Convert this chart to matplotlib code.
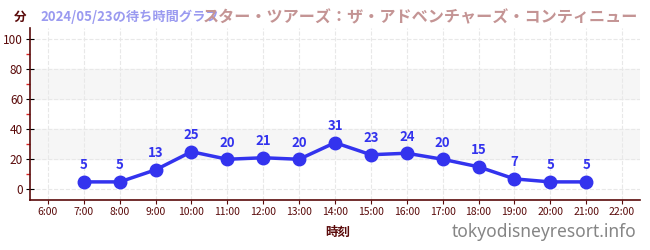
import matplotlib
matplotlib.use('Agg')
import matplotlib.pyplot as plt

plt.rcParams['font.family'] = ['Noto Sans CJK JP', 'DejaVu Sans']

# data
hours = [7, 8, 9, 10, 11, 12, 13, 14, 15, 16, 17, 18, 19, 20, 21]
waits = [5, 5, 13, 25, 20, 21, 20, 31, 23, 24, 20, 15, 7, 5, 5]
tick_hours = list(range(6, 23))
tick_labels = ['%d:00' % h for h in tick_hours]
y_ticks = [0, 20, 40, 60, 80, 100]

title_date = '2024/05/23の待ち時間グラフ'
title_name = 'スター・ツアーズ：ザ・アドベンチャーズ・コンティニュー'

dark = '#5a0a0a'
blue = '#3333ee'

fig = plt.figure(figsize=(6.5, 2.5), dpi=100)
ax = fig.add_axes([30 / 650, 50 / 250, 610 / 650, 172 / 250])

# bands
ax.axhspan(20, 40, color='#f6f6f6', zorder=0)
ax.axhspan(60, 80, color='#f6f6f6', zorder=0)

ax.plot(hours, waits, color=blue, lw=2.5, marker='o', ms=9, zorder=3)
for h, w in zip(hours, waits):
    ax.annotate(str(w), (h, w), xytext=(0, 7), textcoords='offset points',
                ha='center', va='bottom', color=blue, fontsize=9.5,
                fontweight='bold', zorder=4)

ax.set_xlim(5.5, 22.5)
ax.set_ylim(-7, 107)
ax.set_xticks(tick_hours)
ax.set_xticklabels(tick_labels, fontsize=7.5, color=dark)
ax.set_yticks(y_ticks)
ax.set_yticklabels([str(v) for v in y_ticks], fontsize=8.5, color=dark)
ax.set_yticks([10, 30, 50, 70, 90], minor=True)
ax.tick_params(axis='y', which='minor', color='#dd2222', length=3, width=1)
ax.tick_params(axis='y', which='major', direction='inout', length=6, color='black', pad=2)
ax.tick_params(axis='x', which='major', length=3, color=dark, pad=2)
ax.grid(True, which='major', color='#e8e8e8', linestyle='--', lw=0.8, zorder=1)
ax.set_axisbelow(True)
for s in ['top', 'right']:
    ax.spines[s].set_visible(False)
for s in ['left', 'bottom']:
    ax.spines[s].set_color(dark)
    ax.spines[s].set_linewidth(1.2)

# labels
fig.text(20 / 650, 1 - 17 / 250, '分', ha='center', va='center', color=dark,
         fontsize=9, fontweight='bold')
fig.text(40 / 650, 1 - 17 / 250, title_date, ha='left', va='center',
         color='#9a9af0', fontsize=9.5, fontweight='bold')
fig.text(638 / 650, 1 - 17 / 250, title_name, ha='right', va='center',
         color='#c49494', fontsize=11.6, fontweight='bold')
fig.text(338 / 650, 1 - 232 / 250, '時刻', ha='center', va='center', color=dark,
         fontsize=9, fontweight='bold')
fig.text(636 / 650, 1 - 232 / 250, 'tokyodisneyresort.info', ha='right',
         va='center', color='#858585', fontsize=12.5,
         family=['Noto Sans', 'DejaVu Sans'])

fig.savefig('out.png', dpi=100)
